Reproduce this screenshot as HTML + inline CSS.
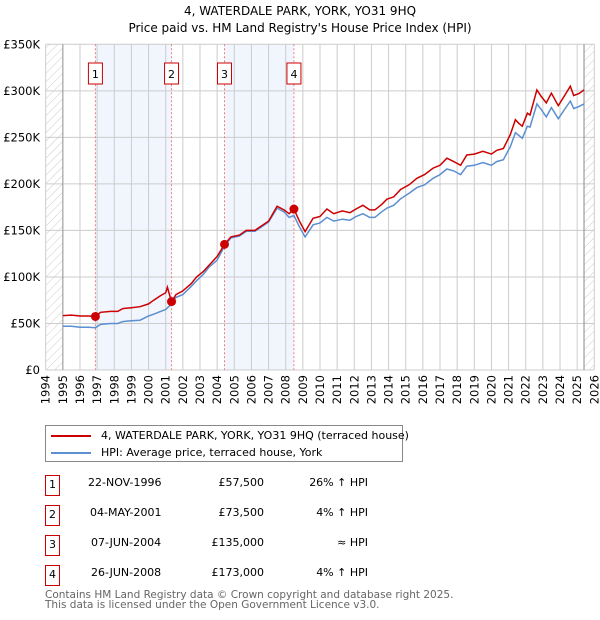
<!DOCTYPE html>
<html><head><meta charset="utf-8">
<style>
body{margin:0;background:#fff;font-family:"DejaVu Sans","Liberation Sans",sans-serif;}
#wrap{position:relative;width:600px;height:620px;overflow:hidden;}
svg text{font-family:"DejaVu Sans","Liberation Sans",sans-serif;}
.cell{position:absolute;white-space:nowrap;}
</style></head>
<body>
<div id="wrap">
<svg id="chart" width="600" height="620">
<defs>
<pattern id="hatch" width="6" height="6" patternUnits="userSpaceOnUse" patternTransform="rotate(45)">
<line x1="0" y1="0" x2="0" y2="6" stroke="#ccc" stroke-width="1"/>
</pattern>
</defs>
<text x="300" y="15" text-anchor="middle" font-size="12">4, WATERDALE PARK, YORK, YO31 9HQ</text>
<text x="300" y="32" text-anchor="middle" font-size="12">Price paid vs. HM Land Registry's House Price Index (HPI)</text>
</svg>
</div>
<script>
const yearTicks=[1994,1995,1996,1997,1998,1999,2000,2001,2002,2003,2004,2005,2006,2007,2008,2009,2010,2011,2012,2013,2014,2015,2016,2017,2018,2019,2020,2021,2022,2023,2024,2025,2026];
const valueTicks=[0,50,100,150,200,250,300,350];
const valueTickLabels=["£0","£50K","£100K","£150K","£200K","£250K","£300K","£350K"];
const saleYears=[1996.9,2001.34,2004.43,2008.48];
const salePrices=[57.5,73.5,135,173];
const saleLabels=["1","2","3","4"];
const redYears=[1995.0,1995.5,1996,1996.5,1996.9,1997.2,1997.8,1998.2,1998.5,1999,1999.5,2000,2000.3,2000.7,2001.0,2001.1,2001.3,2001.34,2001.6,2002,2002.5,2002.8,2003.2,2003.5,2004,2004.43,2004.8,2005.3,2005.7,2006.2,2006.6,2007.0,2007.5,2007.9,2008.2,2008.48,2008.8,2009.13,2009.6,2010.0,2010.4,2010.8,2011.3,2011.75,2012.1,2012.5,2012.9,2013.2,2013.6,2013.9,2014.3,2014.7,2015.2,2015.65,2016.1,2016.6,2017.0,2017.4,2017.8,2018.2,2018.56,2019.0,2019.5,2020.0,2020.3,2020.7,2021.1,2021.4,2021.6,2021.8,2022.1,2022.25,2022.65,2022.9,2023.2,2023.5,2023.9,2024.3,2024.6,2024.8,2025.1,2025.4];
const redValues=[58.5,59,58,58,57.5,62,63,63,66,67,68,71,75,80,83,89,76,73.5,81,85,93,100,106,112,122,135,143,145,150,150,155,160,176,172,168,173,160,148.7,163,165,173,168,171,169,173,177,172,172,178,183.5,186,194,199,206,210,217,220,227.6,224,220,231,232,235,232,236,238,253,269,265,262,276,274,301,294,287,297.5,284,296,305,295,297,301];
const blueValues=[47,47,46,46,45.5,49,50,50,52,53,53.5,58,60,63,65,67,70,72,78,81,90,96,103,110,118,133,142,144,149,149,154,159,174,170,164,166,154,143,156,158,164,160,162,161,165,168,164,164,170,174,177,184,190,196,199,206,210,216,214,210,219,220,223,220,224,226,240,255,252,249,262,261,286,280,272,282,270,281,289,281,283,286];

const svg=document.getElementById('chart');
const NS='http://www.w3.org/2000/svg';
const X0=45.7,X1=594.3,Y0=370,Y1=44.3;
function xs(y){return X0+(y-1994)/(2026-1994)*(X1-X0);}
function ys(v){return Y0-(v/350)*(Y0-Y1);}
function mk(tag,attrs,parent){const e=document.createElementNS(NS,tag);for(const k in attrs)e.setAttribute(k,attrs[k]);(parent||svg).appendChild(e);return e;}

let b1=mk('rect',{x:xs(saleYears[0]),y:Y1,width:xs(saleYears[1])-xs(saleYears[0]),height:Y0-Y1,fill:'#eef3fc',opacity:0.8});


let b2=mk('rect',{x:xs(saleYears[2]),y:Y1,width:xs(saleYears[3])-xs(saleYears[2]),height:Y0-Y1,fill:'#eef3fc',opacity:0.8});


let h1=mk('rect',{x:X0,y:Y1,width:xs(1995)-X0,height:Y0-Y1,fill:'url(#hatch)'});


let h2=mk('rect',{x:xs(2025.4),y:Y1,width:X1-xs(2025.4),height:Y0-Y1,fill:'url(#hatch)'});



yearTicks.forEach(y=>{
  let l=mk('line',{x1:xs(y),x2:xs(y),y1:Y1,y2:Y0,stroke:'#ccc','stroke-width':1});
  
  
  let t=mk('text',{x:0,y:0,'font-size':11.5,'text-anchor':'end',transform:`translate(${xs(y)+4},${Y0+5}) rotate(-90)`});
  t.textContent=y;
  
  
});
valueTicks.forEach((v,i)=>{
  let l=mk('line',{x1:X0,x2:X1,y1:ys(v),y2:ys(v),stroke:'#ccc','stroke-width':1});
  
  
  let t=mk('text',{x:40,y:ys(v)+4,'font-size':11.5,'text-anchor':'end'});
  t.textContent=valueTickLabels[i];
  
  
});
let d1=mk('line',{x1:xs(1995),x2:xs(1995),y1:Y1,y2:Y0,stroke:'#999','stroke-width':1});


let d2=mk('line',{x1:xs(2025.4),x2:xs(2025.4),y1:Y1,y2:Y0,stroke:'#888','stroke-width':1});



saleYears.forEach((y,i)=>{
  let l=mk('line',{x1:xs(y),x2:xs(y),y1:Y1,y2:Y0,stroke:'#f08080','stroke-width':1,'stroke-dasharray':'2,2'});
  
  
  let r=mk('rect',{x:xs(y)-7,y:63,width:14,height:21,fill:'#fff',stroke:'#c00','stroke-width':1});
  
  
  let t=mk('text',{x:xs(y),y:78,'font-size':11,'text-anchor':'middle'});
  t.textContent=saleLabels[i];
  
  
});

function path(vals){return vals.map((v,i)=>(i?'L':'M')+xs(redYears[i]).toFixed(1)+','+ys(v).toFixed(1)).join('');}
let pb=mk('path',{d:path(blueValues),fill:'none',stroke:'#5b8fd0','stroke-width':1.5});


let pr=mk('path',{d:path(redValues),fill:'none',stroke:'#cc0000','stroke-width':1.5});


saleYears.forEach((y,i)=>{
  let c=mk('circle',{cx:xs(y),cy:ys(salePrices[i]),r:4.5,fill:'#cc0000'});
  
  
});
</script>

<div style="position:absolute;left:45px;top:425px;width:356px;height:35px;border:1px solid #888;font-size:11px;">
  <div class="cell" style="left:5px;top:3px;"><span style="display:inline-block;width:40px;height:2px;background:#cc0000;vertical-align:middle;margin-right:10px;"></span>4, WATERDALE PARK, YORK, YO31 9HQ (terraced house)</div>
  <div class="cell" style="left:5px;top:20px;"><span style="display:inline-block;width:40px;height:2px;background:#5b8fd0;vertical-align:middle;margin-right:10px;"></span>HPI: Average price, terraced house, York</div>
</div>

<div style="position:absolute;left:0;top:0;font-size:11px;">
  <div>
    <div class="cell" style="left:45px;top:475px;width:13px;height:19px;border:1px solid #c00;text-align:center;line-height:18px;">1</div>
    <div class="cell" style="left:88px;top:476px;">22-NOV-1996</div>
    <div class="cell" style="left:200px;width:64px;text-align:right;top:476px;">£57,500</div>
    <div class="cell" style="left:300px;width:68px;text-align:right;top:476px;">26% ↑ HPI</div>
  </div>
  <div>
    <div class="cell" style="left:45px;top:505px;width:13px;height:19px;border:1px solid #c00;text-align:center;line-height:18px;">2</div>
    <div class="cell" style="left:90px;top:506px;">04-MAY-2001</div>
    <div class="cell" style="left:200px;width:64px;text-align:right;top:506px;">£73,500</div>
    <div class="cell" style="left:300px;width:68px;text-align:right;top:506px;">4% ↑ HPI</div>
  </div>
  <div>
    <div class="cell" style="left:45px;top:535px;width:13px;height:19px;border:1px solid #c00;text-align:center;line-height:18px;">3</div>
    <div class="cell" style="left:91px;top:536px;">07-JUN-2004</div>
    <div class="cell" style="left:200px;width:64px;text-align:right;top:536px;">£135,000</div>
    <div class="cell" style="left:300px;width:68px;text-align:right;top:536px;">≈ HPI</div>
  </div>
  <div>
    <div class="cell" style="left:45px;top:565px;width:13px;height:19px;border:1px solid #c00;text-align:center;line-height:18px;">4</div>
    <div class="cell" style="left:91px;top:566px;">26-JUN-2008</div>
    <div class="cell" style="left:200px;width:64px;text-align:right;top:566px;">£173,000</div>
    <div class="cell" style="left:300px;width:68px;text-align:right;top:566px;">4% ↑ HPI</div>
  </div>
</div>

<div style="position:absolute;left:45px;top:590px;font-size:10.5px;color:#666;line-height:10px;white-space:nowrap;">Contains HM Land Registry data © Crown copyright and database right 2025.<br>This data is licensed under the Open Government Licence v3.0.</div>
</body></html>
